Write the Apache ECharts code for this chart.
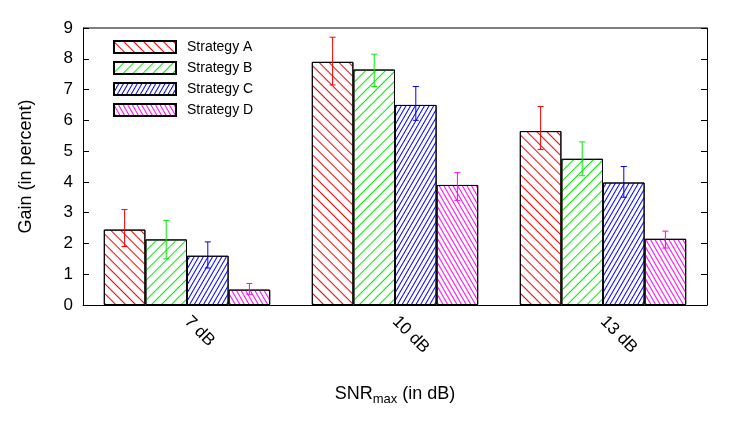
<!DOCTYPE html><html><head><meta charset="utf-8"><script src="https://cdn.jsdelivr.net/npm/echarts@6/dist/echarts.min.js"></script></head><body style="margin:0;background:#fff"><div id="c" style="width:747px;height:436px"></div><script>
const categories=['7 dB','10 dB','13 dB'];
const names=['Strategy A','Strategy B','Strategy C','Strategy D'];
const valA=[2.45,7.9,5.65], valB=[2.13,7.65,4.75], valC=[1.6,6.5,3.98], valD=[0.5,3.9,2.15];
const loA=[1.9,7.15,5.05], hiA=[3.1,8.7,6.45];
const loB=[1.5,7.1,4.2], hiB=[2.75,8.15,5.3];
const loC=[1.2,6.0,3.5], hiC=[2.05,7.1,4.5];
const loD=[0.35,3.4,1.85], hiD=[0.7,4.3,2.4];
const vals=[valA,valB,valC,valD], los=[loA,loB,loC,loD], his=[hiA,hiB,hiC,hiD];
const colors=['#ff0000','#00ee00','#0000ff','#ff00ff'];
const decals=[
 {symbol:'rect',symbolSize:1,color:'#ff0000',dashArrayX:[1,0],dashArrayY:[1,6],rotation:Math.PI/4},
 {symbol:'rect',symbolSize:1,color:'#00ee00',dashArrayX:[1,0],dashArrayY:[1,6],rotation:-Math.PI/4},
 {symbol:'rect',symbolSize:1,color:'#0000ff',dashArrayX:[1,0],dashArrayY:[1,2.5],rotation:-Math.PI/3},
 {symbol:'rect',symbolSize:1,color:'#ff00ff',dashArrayX:[1,0],dashArrayY:[1,2.5],rotation:Math.PI/3}];
const series=names.map((n,i)=>({name:n,type:'bar',data:vals[i],barGap:'0%',barCategoryGap:'20%',itemStyle:{color:'#ffffff',borderColor:'#000',borderWidth:1,decal:decals[i]}}));
series.push({type:'custom',silent:true,data:categories.map((c,j)=>j),z:10,renderItem:function(p,api){const j=api.value(0);const band=api.size([1,0])[0];const bw=band*0.8/4;const ch=[];
for(let i=0;i<4;i++){const x=api.coord([j,0])[0]+(i-1.5)*bw;const y1=api.coord([j,los[i][j]])[1],y2=api.coord([j,his[i][j]])[1];const st={stroke:colors[i],lineWidth:1};
ch.push({type:'line',shape:{x1:x,y1:y1,x2:x,y2:y2},style:st},{type:'line',shape:{x1:x-3,y1:y1,x2:x+3,y2:y1},style:st},{type:'line',shape:{x1:x-3,y1:y2,x2:x+3,y2:y2},style:st});}
return{type:'group',children:ch};}});
const ch=echarts.init(document.getElementById('c'));
ch.setOption({animation:false,grid:{left:83,right:40,top:28,bottom:131},
legend:{data:names,icon:'rect',orient:'vertical',left:108,top:35,itemWidth:62,itemHeight:12,itemGap:7,textStyle:{fontFamily:'Liberation Sans',fontSize:14,color:'#000',padding:[0,0,0,6]}},
xAxis:{type:'category',data:categories,axisTick:{show:false},axisLine:{lineStyle:{color:'#000'}},axisLabel:{rotate:-45,fontSize:17,fontFamily:'Liberation Sans',color:'#000',margin:14},
name:'{a|SNR}{b|max}{a| (in dB)}',nameLocation:'middle',nameGap:78,nameTextStyle:{rich:{a:{fontSize:18,fontFamily:'Liberation Sans',color:'#000'},b:{fontSize:13,fontFamily:'Liberation Sans',color:'#000',verticalAlign:'bottom',padding:[10,0,0,0]}}}},
yAxis:[{type:'value',min:0,max:9,interval:1,splitLine:{show:false},axisLine:{show:true,lineStyle:{color:'#000'}},axisTick:{show:true,inside:true,length:6,lineStyle:{color:'#000'}},axisLabel:{fontSize:17,fontFamily:'Liberation Sans',color:'#000',margin:10},
name:'Gain (in percent)',nameLocation:'middle',nameGap:48,nameTextStyle:{fontSize:18,fontFamily:'Liberation Sans',color:'#000'}},
{type:'value',min:0,max:9,interval:1,position:'right',splitLine:{show:false},axisLine:{show:true,lineStyle:{color:'#000'}},axisTick:{show:true,inside:true,length:6,lineStyle:{color:'#000'}},axisLabel:{show:false}}],
series:series,
graphic:[{type:'line',shape:{x1:83,y1:28,x2:707,y2:28},style:{stroke:'#000'}}]});
</script></body></html>
